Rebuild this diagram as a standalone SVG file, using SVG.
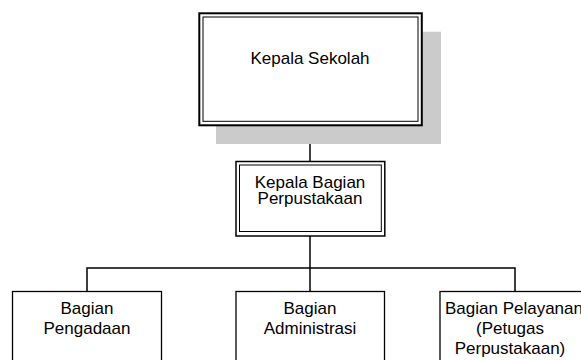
<svg xmlns="http://www.w3.org/2000/svg" width="581" height="360" viewBox="0 0 581 360">
<style>
.box{fill:#fff;stroke:#000;}
.t{font-family:"Liberation Sans",Arial,sans-serif;font-size:17px;fill:#000;text-anchor:middle;}
.c{stroke:#000;stroke-width:1.5;fill:none;}
</style>
<rect x="0" y="0" width="581" height="360" fill="#fff"/>
<g id="connectors">
<line class="c" x1="310" y1="125" x2="310" y2="161"/>
<line class="c" x1="310" y1="236" x2="310" y2="291.5"/>
<polyline class="c" points="87,291.5 87,268 515,268 515,291.5"/>
</g>
<g id="kepala-sekolah">
<rect x="216" y="31.7" width="225" height="112.3" fill="#cbcbcb"/>
<rect class="box" x="199.3" y="13.3" width="222.5" height="112" stroke-width="2"/>
<rect class="box" x="203" y="17" width="215" height="104.3" stroke-width="1"/>
<text class="t" x="310" y="64.3">Kepala Sekolah</text>
</g>
<g id="kepala-bagian">
<rect class="box" x="236" y="161.5" width="148.8" height="74.5" stroke-width="1.5"/>
<rect class="box" x="239.5" y="165" width="141.8" height="66.5" stroke-width="1"/>
<text class="t" x="310" y="187.5">Kepala Bagian</text>
<text class="t" x="310" y="203.5">Perpustakaan</text>
</g>
<g id="bagian-pengadaan">
<rect class="box" x="12.5" y="291.5" width="149" height="80" stroke-width="1.3"/>
<text class="t" x="87" y="314.3">Bagian</text>
<text class="t" x="87" y="334.3">Pengadaan</text>
</g>
<g id="bagian-administrasi">
<rect class="box" x="236" y="291.5" width="148.5" height="80" stroke-width="1.3"/>
<text class="t" x="310" y="314.3">Bagian</text>
<text class="t" x="310" y="334.3">Administrasi</text>
</g>
<g id="bagian-pelayanan">
<rect class="box" x="440" y="291.5" width="150" height="80" stroke-width="1.3"/>
<text class="t" x="514" y="314.3">Bagian Pelayanan</text>
<text class="t" x="510" y="334.3">(Petugas</text>
<text class="t" x="510" y="354.3">Perpustakaan)</text>
</g>
</svg>
